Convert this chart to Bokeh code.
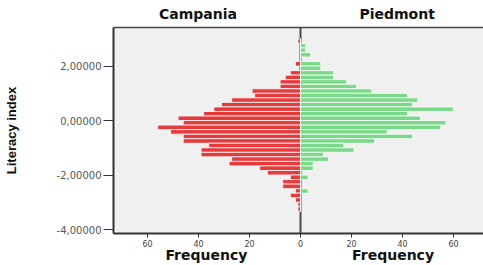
from bokeh.plotting import figure
from bokeh.models import ColumnDataSource, FixedTicker, LinearAxis, Span, Range1d
from bokeh.embed import file_html
from bokeh.resources import INLINE

# Histogram bin centres of the Literacy index (bin width 1/6)
literacy_bins = [2.920, 2.753, 2.587, 2.420, 2.253, 2.087, 1.920, 1.753, 1.587, 1.420,
                 1.253, 1.087, 0.920, 0.753, 0.587, 0.420, 0.253, 0.087, -0.080, -0.247,
                 -0.413, -0.580, -0.747, -0.913, -1.080, -1.247, -1.413, -1.580, -1.747, -1.913,
                 -2.080, -2.247, -2.413, -2.580, -2.747, -2.913, -3.080, -3.247]
bin_width = 1 / 6

campania = [1, 0, 0, 0, 0, 2, 0, 4, 6, 8, 8, 19, 18, 27, 31, 34, 38, 48, 46, 56,
            51, 46, 46, 36, 39, 39, 27, 28, 16, 13, 4, 7, 7, 2, 4, 2, 1, 1]
piedmont = [0, 2, 2, 4, 0, 8, 8, 13, 13, 18, 22, 28, 42, 46, 44, 60, 42, 47, 57, 55,
            34, 44, 29, 17, 21, 9, 11, 5, 5, 1, 3, 0, 0, 3, 0, 0, 0, 0]

regions = ["Campania", "Piedmont"]
x_ticks = [-60, -40, -20, 0, 20, 40, 60]
y_ticks = [-4, -2, 0, 2]
y_tick_labels = ["-4,00000", "-2,00000", "0,00000", "2,00000"]

src = ColumnDataSource(dict(
    y=literacy_bins,
    camp_left=[-c for c in campania],
    zero=[0] * len(literacy_bins),
    pied=piedmont,
))

p = figure(width=483, height=265, output_backend="svg", toolbar_location=None,
           x_range=Range1d(-73.33, 71.76), y_range=Range1d(-4.144, 3.42),
           min_border_left=113, min_border_right=0, min_border_top=27, min_border_bottom=30)
p.outline_line_color = None
p.background_fill_color = "#F0F0F0"
p.border_fill_color = "white"
p.grid.visible = False

p.add_layout(Span(location=0, dimension="height", line_color="#4a4a4a", line_width=2, level="underlay"))

p.hbar(y="y", left="camp_left", right="zero", height=bin_width, source=src,
       fill_color="#E63B3D", line_color="white", line_width=0.8)
p.hbar(y="y", left="zero", right="pied", height=bin_width, source=src,
       fill_color="#7BDA8A", line_color="white", line_width=0.8)

# x axis (bottom) with frequency ticks
xa = p.xaxis[0]
xa.ticker = FixedTicker(ticks=x_ticks)
xa.major_label_overrides = {t: str(abs(t)) for t in x_ticks}
xa.axis_line_color = "#333333"
xa.axis_line_width = 2
xa.major_tick_line_color = "#333333"
xa.major_tick_out = 4
xa.major_tick_in = 0
xa.minor_tick_line_color = None
xa.minor_tick_out = 0
xa.major_label_text_font = "DejaVu Sans"
xa.major_label_text_font_size = "8px"
xa.major_label_text_color = "#444444"
xa.major_label_standoff = 2

# second bottom axis carrying the two "Frequency" titles
freq_pos = [-36.9, 36.3]
freq = LinearAxis(ticker=FixedTicker(ticks=freq_pos),
                  major_label_overrides={freq_pos[0]: "Frequency", freq_pos[1]: "Frequency"})
freq.axis_line_color = None
freq.major_tick_line_color = None
freq.major_tick_out = 0
freq.major_tick_in = 0
freq.minor_tick_line_color = None
freq.minor_tick_out = 0
freq.major_label_text_font = "DejaVu Sans"
freq.major_label_text_font_style = "bold"
freq.major_label_text_font_size = "14px"
freq.major_label_text_color = "#111111"
freq.major_label_standoff = -3
p.add_layout(freq, "below")

# y axis
ya = p.yaxis[0]
ya.ticker = FixedTicker(ticks=y_ticks)
ya.major_label_overrides = dict(zip(y_ticks, y_tick_labels))
ya.axis_line_color = "#333333"
ya.axis_line_width = 2
ya.major_tick_line_color = "#333333"
ya.major_tick_out = 10
ya.major_tick_in = 0
ya.minor_tick_line_color = None
ya.minor_tick_out = 0
ya.major_label_text_font = "DejaVu Sans"
ya.major_label_text_font_size = "10px"
ya.major_label_text_color = "#555555"
ya.major_label_standoff = 2
ya.axis_label = "Literacy index"
ya.axis_label_text_font = "Liberation Sans"
ya.axis_label_text_font_style = "bold"
ya.axis_label_text_font_size = "13px"
ya.axis_label_text_color = "#111111"
ya.axis_label_standoff = 35

# top axis carrying the panel titles
title_pos = [-40.2, 37.9]
top = LinearAxis(ticker=FixedTicker(ticks=title_pos),
                 major_label_overrides=dict(zip(title_pos, regions)))
top.axis_line_color = "#444444"
top.axis_line_width = 1.5
top.major_tick_line_color = None
top.major_tick_out = 0
top.major_tick_in = 0
top.minor_tick_line_color = None
top.minor_tick_out = 0
top.major_label_text_font = "DejaVu Sans"
top.major_label_text_font_style = "bold"
top.major_label_text_font_size = "14px"
top.major_label_text_color = "#111111"
top.major_label_standoff = 6
p.add_layout(top, "above")

open("out.html", "w").write(file_html(p, INLINE))
